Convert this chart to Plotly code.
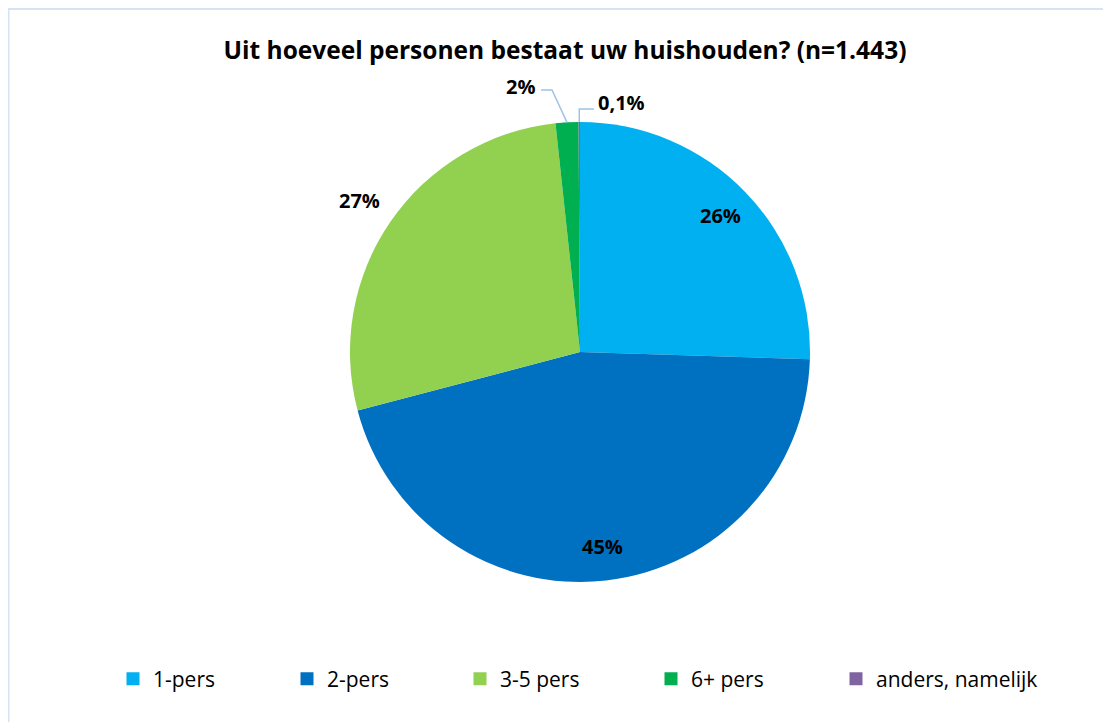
import math
import plotly.graph_objects as go

# ---- data ----
labels = ["1-pers", "2-pers", "3-5 pers", "6+ pers", "anders, namelijk"]
values = [25.5, 45.4, 27.4, 1.6, 0.1]
label_text = ["26%", "45%", "27%", "2%", "0,1%"]
colors = ["#00B0F0", "#0070C0", "#92D050", "#00B050", "#8064A2"]

FONT = "Open Sans"
# page renders with 8px body margin -> figure origin at (8, 8) on screen
OX, OY = 8, 8
W, H = 1111 - OX, 722 - OY


def px(x):
    return (x - OX) / W


def py(y):
    return 1 - (y - OY) / H


cx, cy, r = 580, 352, 230  # pie centre / radius on screen

fig = go.Figure()
fig.add_trace(go.Pie(
    labels=labels, values=values, text=label_text,
    textinfo="none",
    marker=dict(colors=colors, line=dict(width=0)),
    sort=False, direction="clockwise", rotation=0,
    domain=dict(x=[px(cx - r), px(cx + r)], y=[py(cy + r), py(cy - r)]),
    hoverinfo="label+percent", showlegend=False,
))

# slice mid angles (clockwise from 12 o'clock)
total = sum(values)
mids = []
cum = 0
for v in values:
    mids.append((cum + v / 2) / total * 2 * math.pi)
    cum += v


def edge(i, rr):
    a = mids[i]
    return cx + rr * math.sin(a), cy - rr * math.cos(a)


annotations = []
shapes = []
lblfont = dict(family=FONT, size=20, color="black", weight="bold")


def add_label(i, x, y):
    annotations.append(dict(x=px(x), y=py(y), xref="paper", yref="paper", text=label_text[i],
                            showarrow=False, font=lblfont, xanchor="center", yanchor="middle"))


# inside labels (best fit position along mid angle)
for i in (0, 1):
    add_label(i, *edge(i, r * 0.85))
# 27% : outside end
add_label(2, *edge(2, r * 1.165))

lead = "#9DC3E6"
# 2% : moved label with leader line
ex, ey = edge(3, r)
add_label(3, 520, 86)
shapes.append(dict(type="path", xref="paper", yref="paper",
                   path=f"M{px(541)},{py(90)} L{px(552)},{py(90)} L{px(ex)},{py(ey)}",
                   line=dict(color=lead, width=1.5)))

# 0,1% : moved label with leader line
ex, ey = edge(4, r)
add_label(4, 621, 103)
shapes.append(dict(type="path", xref="paper", yref="paper",
                   path=f"M{px(594)},{py(109)} L{px(ex)},{py(109)} L{px(ex)},{py(ey)}",
                   line=dict(color=lead, width=1.5)))

# chart border
shapes.append(dict(type="rect", xref="paper", yref="paper",
                   x0=0.5 / W, y0=1 - 1.0 / H, x1=1.05, y1=-0.05,
                   line=dict(color="#D6E3F2", width=2), fillcolor="rgba(0,0,0,0)"))

# legend: one entry per legend so spacing matches
legend_text_x = [153, 327, 500, 691, 876]
layout_legends = {}
for i, (lab, col) in enumerate(zip(labels, colors)):
    key = "legend" if i == 0 else f"legend{i + 1}"
    fig.add_trace(go.Scatter(x=[None], y=[None], mode="markers", name=lab,
                             marker=dict(symbol="square", size=13, color=col),
                             legend=key, showlegend=True, hoverinfo="skip"))
    layout_legends[key] = dict(x=px(legend_text_x[i] - 40), xanchor="left",
                               y=py(679), yanchor="middle", orientation="h",
                               bgcolor="rgba(0,0,0,0)",
                               font=dict(family=FONT, size=21, color="black"))

fig.update_layout(
    width=W, height=H,
    margin=dict(l=0, r=0, t=0, b=0),
    paper_bgcolor="white", plot_bgcolor="rgba(0,0,0,0)",
    font=dict(family=FONT, color="black"),
    title=dict(text="<b>Uit hoeveel personen bestaat uw huishouden? (n=1.443)</b>",
               x=px(565), xanchor="center", y=py(50), yanchor="middle",
               font=dict(family=FONT, size=24.5, color="black")),
    xaxis=dict(visible=False), yaxis=dict(visible=False),
    annotations=annotations, shapes=shapes,
    **layout_legends,
)

fig.write_html("out.html")
